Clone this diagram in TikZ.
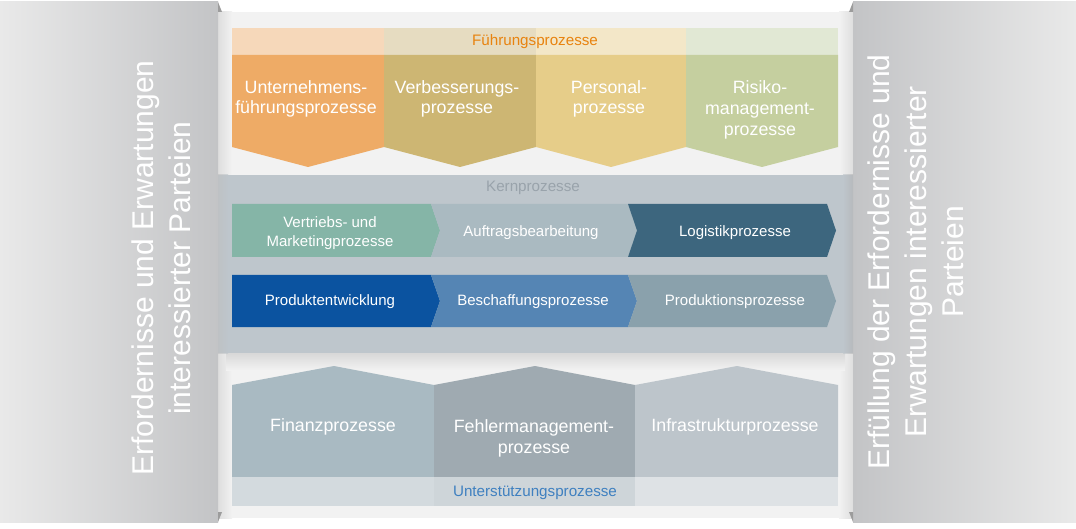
\documentclass[tikz,border=0pt]{standalone}
\usepackage{fontspec}
\setmainfont{Liberation Sans}
\definecolor{backdrop}{HTML}{F2F2F2}
\definecolor{sideL}{HTML}{E9E9E9}
\definecolor{sideD}{HTML}{C3C4C6}
\definecolor{orA}{HTML}{EEAB66}
\definecolor{orL}{HTML}{F6D8BA}
\definecolor{tanA}{HTML}{CDB673}
\definecolor{tanL}{HTML}{E6DCC1}
\definecolor{yeA}{HTML}{E6CD89}
\definecolor{yeL}{HTML}{F3E7C8}
\definecolor{grA}{HTML}{C5CF9F}
\definecolor{grL}{HTML}{E1E8D4}
\definecolor{fText}{HTML}{E8830F}
\definecolor{kernBand}{HTML}{BEC6CC}
\definecolor{kernText}{HTML}{99A3AB}
\definecolor{kA}{HTML}{85B5A7}
\definecolor{kB}{HTML}{AABAC1}
\definecolor{kC}{HTML}{3D667E}
\definecolor{kD}{HTML}{0B53A0}
\definecolor{kE}{HTML}{5585B4}
\definecolor{kF}{HTML}{8AA1AC}
\definecolor{uA}{HTML}{A9BAC2}
\definecolor{uB}{HTML}{9FAAB1}
\definecolor{uC}{HTML}{BDC5CB}
\definecolor{uAL}{HTML}{D3DADE}
\definecolor{uBL}{HTML}{CED5D9}
\definecolor{uCL}{HTML}{DEE2E5}
\definecolor{uText}{HTML}{3F80C0}
\definecolor{foldC}{HTML}{9C9C9C}
\begin{document}
\begin{tikzpicture}[x=1pt,y=-1pt,
  every node/.style={inner sep=0pt,outer sep=0pt},
  bigtxt/.style={text=white,align=center,font=\fontsize{17.8}{20.8}\selectfont},
  midtxt/.style={text=white,align=center,font=\fontsize{15}{19}\selectfont},
  hdrtxt/.style={align=center,font=\fontsize{15.2}{18}\selectfont},
  sidetxt/.style={text=white,align=center,rotate=90,font=\fontsize{30}{37}\selectfont}]
\useasboundingbox (0,0) rectangle (1076,529);
\fill[white] (0,0) rectangle (1076,529);
% central backdrop
\fill[backdrop] (218,12) rectangle (853,518);
\shade[left color=black!13, right color=backdrop] (218,12) rectangle (232,518);
\shade[left color=backdrop, right color=black!13] (839,12) rectangle (853,518);
% side panels
\shade[left color=sideL, right color=sideD] (0,2) rectangle (218,522);
\shade[left color=sideD, right color=sideL] (853,2) rectangle (1076,522);
\fill[foldC] (218,2) -- (222,12) -- (218,12) -- cycle;
\fill[foldC] (218,512) -- (222,512) -- (218,522) -- cycle;
\fill[foldC] (853,2) -- (849,12) -- (853,12) -- cycle;
\fill[foldC] (853,512) -- (849,512) -- (853,522) -- cycle;
% Fuehrungsprozesse
\fill[orL]  (232,28) rectangle (384,55);
\fill[tanL] (384,28) rectangle (536,55);
\fill[yeL]  (536,28) rectangle (686,55);
\fill[grL]  (686,28) rectangle (838,55);
\fill[orA]  (232,55) -- (384,55) -- (384,147) -- (308,167) -- (232,147) -- cycle;
\fill[tanA] (384,55) -- (536,55) -- (536,147) -- (460,167) -- (384,147) -- cycle;
\fill[yeA]  (536,55) -- (686,55) -- (686,147) -- (611,167) -- (536,147) -- cycle;
\fill[grA]  (686,55) -- (838,55) -- (838,147) -- (762,167) -- (686,147) -- cycle;
\node[hdrtxt,text=fText] (fhdr) at (535,42) {Führungsprozesse};
\node[bigtxt] (f1) at (306,99) {Unternehmens-\\führungsprozesse};
\node[bigtxt] (f2) at (457,99) {Verbesserungs-\\prozesse};
\node[bigtxt] (f3) at (609,99) {Personal-\\prozesse};
\node[bigtxt] (f4) at (760,110) {Risiko-\\management-\\prozesse};
% Kernprozesse
\shade[top color=black!16, bottom color=backdrop] (226,352) rectangle (845,370);
\fill[kernBand] (218,175) rectangle (853,353);
\shade[left color=black!25, right color=kernBand, opacity=0.6] (218,175) rectangle (228,353);
\shade[left color=kernBand, right color=black!30, opacity=0.6] (843,175) rectangle (853,353);
\node[hdrtxt,text=kernText] (khdr) at (533,188) {Kernprozesse};
\fill[kA] (232,204) -- (431,204) -- (440,230.5) -- (431,257) -- (232,257) -- cycle;
\fill[kB] (431,204) -- (628,204) -- (637,230.5) -- (628,257) -- (431,257) -- (440,230.5) -- cycle;
\fill[kC] (628,204) -- (827,204) -- (836,230.5) -- (827,257) -- (628,257) -- (637,230.5) -- cycle;
\fill[kD] (232,275) -- (431,275) -- (440,301) -- (431,327) -- (232,327) -- cycle;
\fill[kE] (431,275) -- (628,275) -- (637,301) -- (628,327) -- (431,327) -- (440,301) -- cycle;
\fill[kF] (628,275) -- (827,275) -- (836,301) -- (827,327) -- (628,327) -- (637,301) -- cycle;
\node[midtxt] (k1) at (330,233) {Vertriebs- und\\Marketingprozesse};
\node[midtxt] (k2) at (531,232.5) {Auftragsbearbeitung};
\node[midtxt] (k3) at (735,232.5) {Logistikprozesse};
\node[midtxt] (k4) at (330,301.5) {Produktentwicklung};
\node[midtxt] (k5) at (533,301.5) {Beschaffungsprozesse};
\node[midtxt] (k6) at (735,301.5) {Produktionsprozesse};
% Unterstuetzungsprozesse
\fill[uA] (232,385) -- (334,366) -- (434,385) -- (434,477) -- (232,477) -- cycle;
\fill[uB] (434,385) -- (535,366) -- (635,385) -- (635,477) -- (434,477) -- cycle;
\fill[uC] (635,385) -- (737,366) -- (838,385) -- (838,477) -- (635,477) -- cycle;
\fill[uAL] (232,477) rectangle (434,506);
\fill[uBL] (434,477) rectangle (635,506);
\fill[uCL] (635,477) rectangle (838,506);
\node[bigtxt] (u1) at (333,427) {Finanzprozesse};
\node[bigtxt] (u2) at (534,438.5) {Fehlermanagement-\\prozesse};
\node[bigtxt] (u3) at (735,427) {Infrastrukturprozesse};
\node[hdrtxt,text=uText] (uhdr) at (535,493) {Unterstützungsprozesse};
% side texts
\node[sidetxt] (left) at (161,268) {Erfordernisse und Erwartungen\\interessierter Parteien};
\node[sidetxt] (right) at (916,262) {Erfüllung der Erfordernisse und\\Erwartungen interessierter\\Parteien};
\end{tikzpicture}
\end{document}
